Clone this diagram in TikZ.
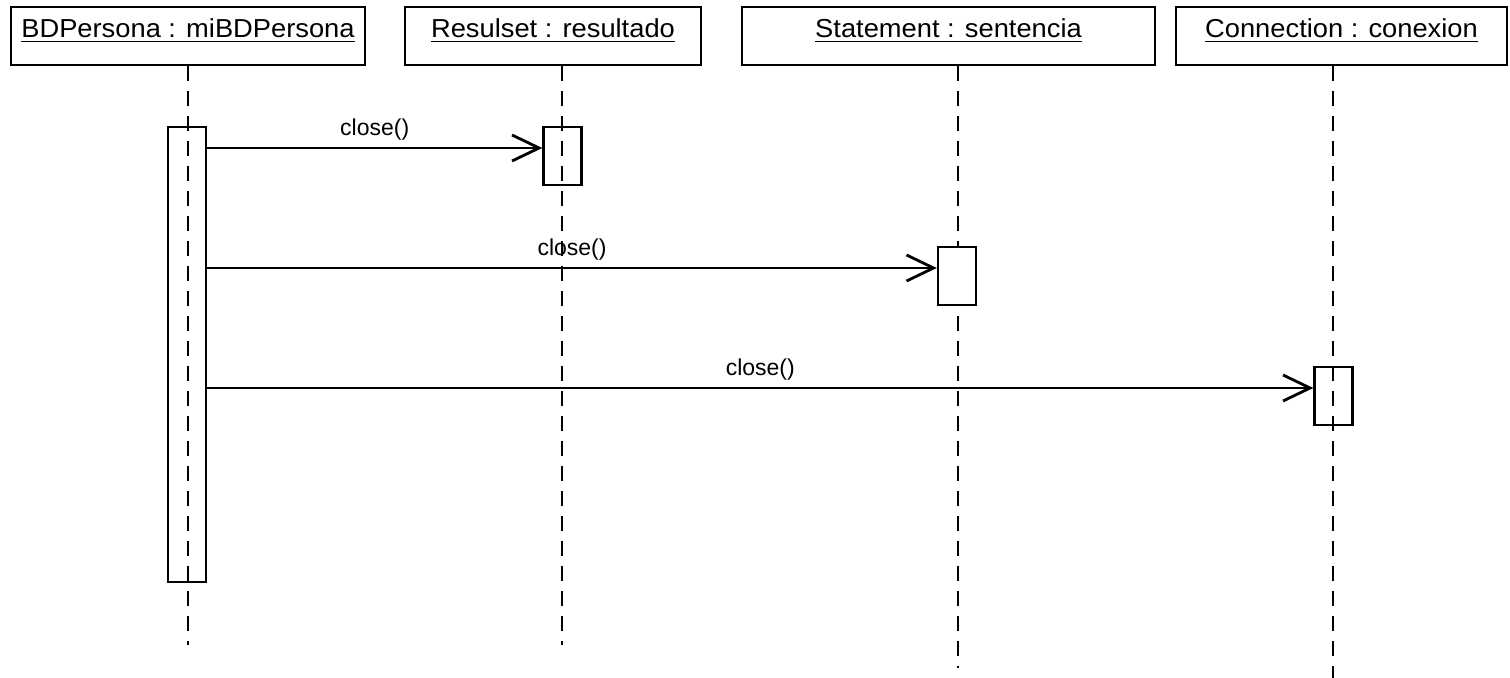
\documentclass[tikz,border=0pt]{standalone}
\usepackage{fontspec}
\setmainfont{Liberation Sans}
\newfontfamily\headfont{Liberation Sans}[FakeStretch=1.05]
\usetikzlibrary{arrows.meta}

\begin{document}
\begin{tikzpicture}[x=0.5pt, y=-0.5pt,
    obj/.style={draw, line width=1.2pt, minimum height=29pt, text height=9pt, text depth=7pt, inner sep=0pt,
        font=\headfont\fontsize{13}{15}\selectfont},
    act/.style={draw, line width=1.2pt, minimum width=19pt, inner sep=0pt},
    lifeline/.style={line width=1.1pt, dash pattern=on 7.5pt off 5pt},
    msg/.style={line width=1.1pt, -{Straight Barb[length=13.5pt, width=13pt, line width=1.4pt]},
        font=\fontsize{11.5}{13}\selectfont}]
    \useasboundingbox (0,0) rectangle (1510,678);

    % objects
    \node[obj, minimum width=177pt] (bdp) at (188,36) {\underline{BDPersona : miBDPersona}};
    \node[obj, minimum width=148pt] (res) at (553,36) {\underline{Resulset : resultado}};
    \node[obj, minimum width=206.5pt] (stm) at (948.5,36) {\underline{Statement : sentencia}};
    \node[obj, minimum width=165.5pt] (con) at (1341.5,36) {\underline{Connection : conexion}};

    % lifelines
    \coordinate (bdpEnd) at (188,645);
    \coordinate (resEnd) at (562,645);
    \coordinate (stmEnd) at (958,668);
    \coordinate (conEnd) at (1333,678);
    \draw[lifeline] (bdp.south -| bdpEnd) -- (bdpEnd);
    \draw[lifeline] (res.south -| resEnd) -- (resEnd);
    \draw[lifeline] (stm.south -| stmEnd) -- (stmEnd);
    \draw[lifeline] (con.south -| conEnd) -- (conEnd);

    % activations
    \node[act, minimum height=227.5pt] (bdpAct) at (187,354.5) {};
    \node[act, minimum height=29pt] (resAct) at (562.5,156) {};
    \node[act, minimum height=29pt, fill=white] (stmAct) at (957,276) {};
    \node[act, minimum height=29pt] (conAct) at (1333.5,396) {};

    % messages
    \coordinate (m1) at ([yshift=4pt]resAct.west);
    \coordinate (m2) at ([yshift=4pt]stmAct.west);
    \coordinate (m3) at ([yshift=4pt]conAct.west);
    \draw[msg] (bdpAct.east |- m1) -- (m1) node[midway, above] {close()};
    \draw[msg] (bdpAct.east |- m2) -- (m2) node[midway, above] {close()};
    \draw[msg] (bdpAct.east |- m3) -- (m3) node[midway, above] {close()};
\end{tikzpicture}
\end{document}
